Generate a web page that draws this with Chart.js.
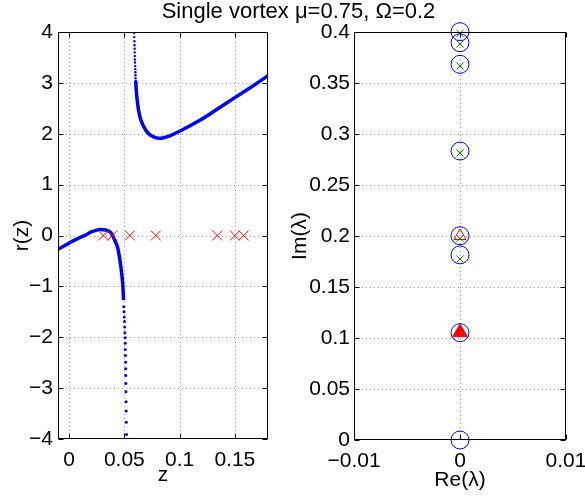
<!DOCTYPE html>
<html>
<head>
<meta charset="utf-8">
<script src="https://cdn.jsdelivr.net/npm/chart.js@4"></script>
<style>
  html, body { margin: 0; padding: 0; background: #fff; }
  #wrap { position: relative; width: 585px; height: 499px; overflow: hidden; background: #fff; }
  #title { position: absolute; left: 0; top: 0; width: 597px; text-align: center;
           font: 22px "Liberation Sans", Arial, sans-serif; line-height: 22px; color: #000; white-space: nowrap; }
  #c1 { position: absolute; left: 0; top: 0; }
  #c2 { position: absolute; left: 290px; top: 0; }
</style>
</head>
<body>
<div id="wrap">
  <canvas id="c1" width="290" height="499"></canvas>
  <canvas id="c2" width="295" height="499"></canvas>
  <div id="title">Single vortex μ=0.75, Ω=0.2</div>
</div>
<script>
// ---- Left panel data: r(z) ----
const branch1Z = [-0.01, -0.005, 0, 0.005, 0.01, 0.015, 0.02, 0.025, 0.028, 0.031, 0.035, 0.038, 0.04, 0.042, 0.044, 0.0454, 0.0475, 0.0487, 0.0493];
const branch1R = [-0.27, -0.21, -0.15, -0.09, -0.04, 0.01, 0.07, 0.105, 0.12, 0.115, 0.095, 0.05, -0.03, -0.13, -0.24, -0.40, -0.72, -1.0, -1.27];
const tail1Z = [0.0495, 0.0497, 0.0499, 0.0501, 0.0503, 0.0505, 0.0507, 0.0508, 0.0509, 0.0510, 0.0511, 0.0512, 0.0513, 0.0514, 0.0515, 0.0516, 0.0517, 0.0518, 0.0520];
const tail1R = [-1.40, -1.50, -1.60, -1.69, -1.80, -1.91, -2.01, -2.12, -2.24, -2.36, -2.49, -2.62, -2.75, -2.91, -3.07, -3.27, -3.45, -3.67, -3.91];
const tail2Z = [0.0589, 0.0590, 0.0591, 0.0592, 0.0593, 0.0594, 0.0595, 0.0596, 0.0597, 0.0598, 0.0599, 0.0600, 0.0601, 0.0602, 0.0603];
const tail2R = [3.98, 3.90, 3.82, 3.74, 3.67, 3.60, 3.53, 3.46, 3.40, 3.33, 3.27, 3.21, 3.15, 3.09, 3.04];
const branch2Z = [0.0603, 0.0604, 0.0616, 0.064, 0.0676, 0.0715, 0.0776, 0.0821, 0.0911, 0.1, 0.118, 0.1332, 0.15, 0.1663, 0.18];
const branch2R = [3.04, 2.99, 2.66, 2.34, 2.14, 2.01, 1.93, 1.91, 1.96, 2.05, 2.26, 2.47, 2.71, 2.94, 3.14];
const rootsZ = [0.0309, 0.0391, 0.055, 0.0785, 0.134, 0.150, 0.158];
const rootsR = [0, 0, 0, 0, 0, 0, 0];

const leftXTicks = [0, 0.05, 0.1, 0.15];
const leftXLabels = ['0', '0.05', '0.1', '0.15'];
const leftYTicks = [-4, -3, -2, -1, 0, 1, 2, 3, 4];
const leftYLabels = ['\u22124', '\u22123', '\u22122', '\u22121', '0', '1', '2', '3', '4'];

// ---- Right panel data: spectrum ----
const circleRe = [0, 0, 0, 0, 0, 0, 0, 0];
const circleIm = [0.4003, 0.3895, 0.3683, 0.2833, 0.2003, 0.1815, 0.1052, 0];
const crossRe = [0, 0, 0, 0, 0, 0];
const crossIm = [0.3987, 0.3882, 0.3667, 0.2814, 0.1977, 0.1775];
const openTriRe = [0];
const openTriIm = [0.2];
const fillTriRe = [0];
const fillTriIm = [0.1055];

const rightXTicks = [-0.01, 0, 0.01];
const rightXLabels = ['\u22120.01', '0', '0.01'];
const rightYTicks = [0, 0.05, 0.1, 0.15, 0.2, 0.25, 0.3, 0.35, 0.4];
const rightYLabels = ['0', '0.05', '0.1', '0.15', '0.2', '0.25', '0.3', '0.35', '0.4'];

const FONT = '"Liberation Sans", Arial, sans-serif';
const pts = (xs, ys) => xs.map((x, i) => ({ x: x, y: ys[i] }));

const boxPlugin = {
  id: 'box',
  beforeDatasetsDraw(chart) {
    const { ctx, chartArea: a, scales } = chart;
    ctx.save();
    ctx.strokeStyle = '#9a9a9a';
    ctx.lineWidth = 1;
    ctx.setLineDash([1, 3]);
    ctx.beginPath();
    scales.x.ticks.forEach(t => {
      const px = Math.round(scales.x.getPixelForValue(t.value)) + 0.5;
      if (px < a.left + 2 || px > a.right - 2) return;
      ctx.moveTo(px, a.bottom); ctx.lineTo(px, a.top);
    });
    scales.y.ticks.forEach(t => {
      const py = Math.round(scales.y.getPixelForValue(t.value)) + 0.5;
      if (py < a.top + 2 || py > a.bottom - 2) return;
      ctx.moveTo(a.left, py); ctx.lineTo(a.right, py);
    });
    ctx.stroke();
    ctx.restore();
  },
  afterDraw(chart) {
    const { ctx, chartArea: a, scales } = chart;
    ctx.save();
    ctx.strokeStyle = '#000';
    ctx.lineWidth = 1;
    const L = Math.round(a.left) + 0.5, R = Math.round(a.right) - 0.5;
    const T = Math.round(a.top) + 0.5, B = Math.round(a.bottom) - 0.5;
    ctx.strokeRect(L, T, R - L, B - T);
    const tl = 5;
    ctx.beginPath();
    scales.x.ticks.forEach(t => {
      const px = Math.round(scales.x.getPixelForValue(t.value)) + 0.5;
      ctx.moveTo(px, B); ctx.lineTo(px, B - tl);
      ctx.moveTo(px, T); ctx.lineTo(px, T + tl);
    });
    scales.y.ticks.forEach(t => {
      const py = Math.round(scales.y.getPixelForValue(t.value)) + 0.5;
      ctx.moveTo(L, py); ctx.lineTo(L + tl, py);
      ctx.moveTo(R, py); ctx.lineTo(R - tl, py);
    });
    ctx.stroke();
    ctx.restore();
  }
};

function axis(opts) {
  return {
    type: 'linear',
    position: opts.position,
    min: opts.min, max: opts.max,
    afterBuildTicks: s => { s.ticks = opts.ticks.map(v => ({ value: v })); },
    afterFit: s => {
      if (opts.position === 'left') s.width = opts.size; else s.height = opts.size;
      s.paddingLeft = 0; s.paddingRight = 0; s.paddingTop = 0; s.paddingBottom = 0;
    },
    ticks: {
      autoSkip: false, maxRotation: 0, minRotation: 0,
      color: '#000', font: { family: FONT, size: 21 }, padding: opts.tickPad,
      callback: (v) => { const i = opts.ticks.findIndex(t => Math.abs(t - v) < 1e-9); return i >= 0 ? opts.labels[i] : ''; }
    },
    grid: { display: false, drawTicks: false },
    border: { display: false },
    title: { display: true, text: opts.title, color: '#000', font: { family: FONT, size: 21, lineHeight: 1 }, padding: opts.titlePad }
  };
}

new Chart(document.getElementById('c1'), {
  type: 'scatter',
  data: {
    datasets: [
      { data: pts(rootsZ, rootsR), pointStyle: 'crossRot', pointRadius: 7, borderColor: '#ff0000', borderWidth: 1, showLine: false },
      { data: pts(branch1Z, branch1R), showLine: true, borderColor: '#0000ff', borderWidth: 3.5, pointRadius: 0, cubicInterpolationMode: 'monotone' },
      { data: pts(tail1Z, tail1R), showLine: false, pointRadius: 1.5, backgroundColor: '#0000ff', borderColor: '#0000ff', borderWidth: 0 },
      { data: pts(tail2Z, tail2R), showLine: false, pointRadius: 1.2, backgroundColor: '#0000ff', borderColor: '#0000ff', borderWidth: 0 },
      { data: pts(branch2Z, branch2R), showLine: true, borderColor: '#0000ff', borderWidth: 3.5, pointRadius: 0, cubicInterpolationMode: 'monotone' }
    ]
  },
  options: {
    responsive: false, animation: false, devicePixelRatio: 1,
    layout: { padding: { top: 32, right: 22, left: 0, bottom: 0 } },
    plugins: { legend: { display: false }, tooltip: { enabled: false } },
    scales: {
      x: axis({ position: 'bottom', min: -0.01, max: 0.18, ticks: leftXTicks, labels: leftXLabels, size: 60, tickPad: 9, title: 'z', titlePad: { top: 0, bottom: 13 } }),
      y: axis({ position: 'left', min: -4, max: 4, ticks: leftYTicks, labels: leftYLabels, size: 58, tickPad: 5, title: 'r(z)', titlePad: { top: 12, bottom: 0 } })
    }
  },
  plugins: [boxPlugin]
});

new Chart(document.getElementById('c2'), {
  type: 'scatter',
  data: {
    datasets: [
      { data: pts(fillTriRe, fillTriIm), pointStyle: 'triangle', pointRadius: 8.5, backgroundColor: '#ff0000', borderColor: '#ff0000', borderWidth: 1, clip: false },
      { data: pts(openTriRe, openTriIm), pointStyle: 'triangle', pointRadius: 7, backgroundColor: 'rgba(0,0,0,0)', borderColor: '#ff0000', borderWidth: 1, clip: false },
      { data: pts(crossRe, crossIm), pointStyle: 'crossRot', pointRadius: 5, borderColor: '#008000', borderWidth: 1, clip: false },
      { data: pts(circleRe, circleIm), pointStyle: 'circle', pointRadius: 9, backgroundColor: 'rgba(0,0,0,0)', borderColor: '#0000ff', borderWidth: 1, clip: false }
    ]
  },
  options: {
    responsive: false, animation: false, devicePixelRatio: 1,
    layout: { padding: { top: 32, right: 19, left: 0, bottom: 0 } },
    plugins: { legend: { display: false }, tooltip: { enabled: false } },
    scales: {
      x: axis({ position: 'bottom', min: -0.01, max: 0.01, ticks: rightXTicks, labels: rightXLabels, size: 59, tickPad: 9, title: 'Re(\u03bb)', titlePad: { top: 0, bottom: 8 } }),
      y: axis({ position: 'left', min: 0, max: 0.4, ticks: rightYTicks, labels: rightYLabels, size: 64, tickPad: 4, title: 'Im(\u03bb)', titlePad: { top: 0, bottom: 0 } })
    }
  },
  plugins: [boxPlugin]
});
</script>
</body>
</html>
